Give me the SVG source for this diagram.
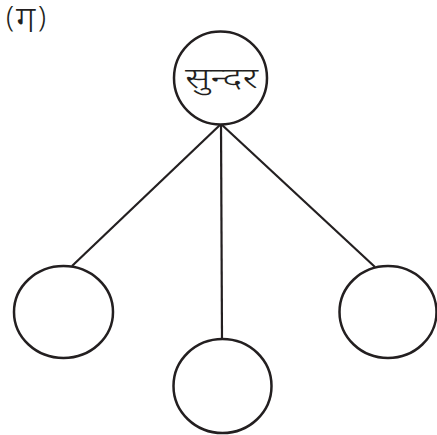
<svg xmlns="http://www.w3.org/2000/svg" width="437" height="435" viewBox="0 0 437 435">
<style>
.n{fill:#fff;stroke:#231f20;stroke-width:2.5}
.c{stroke:#231f20;stroke-width:2.2;fill:none}
.t{font-family:"Noto Sans","DejaVu Sans",sans-serif;fill:#231f20;font-weight:300}
</style>
<rect width="437" height="435" fill="#fff"/>
<text class="t" x="6" y="27" font-size="29">(<tspan x="16" y="32" font-size="36">ग</tspan><tspan x="38" y="27">)</tspan></text>
<g id="connectors">
<line class="c" x1="221" y1="124" x2="72" y2="266"/>
<line class="c" x1="221" y1="124" x2="222" y2="340"/>
<line class="c" x1="221" y1="124" x2="375" y2="267"/>
</g>
<g id="root">
<ellipse class="n" cx="220.5" cy="78" rx="46.5" ry="46.5"/>
<text class="t" x="185" y="88" font-size="29" textLength="73" lengthAdjust="spacingAndGlyphs">सुन्दर</text>
</g>
<g id="left"><ellipse class="n" cx="63.5" cy="312" rx="49.5" ry="46"/></g>
<g id="middle"><ellipse class="n" cx="222.5" cy="386" rx="49" ry="47"/></g>
<g id="right"><ellipse class="n" cx="388" cy="312" rx="48.5" ry="46"/></g>
</svg>
